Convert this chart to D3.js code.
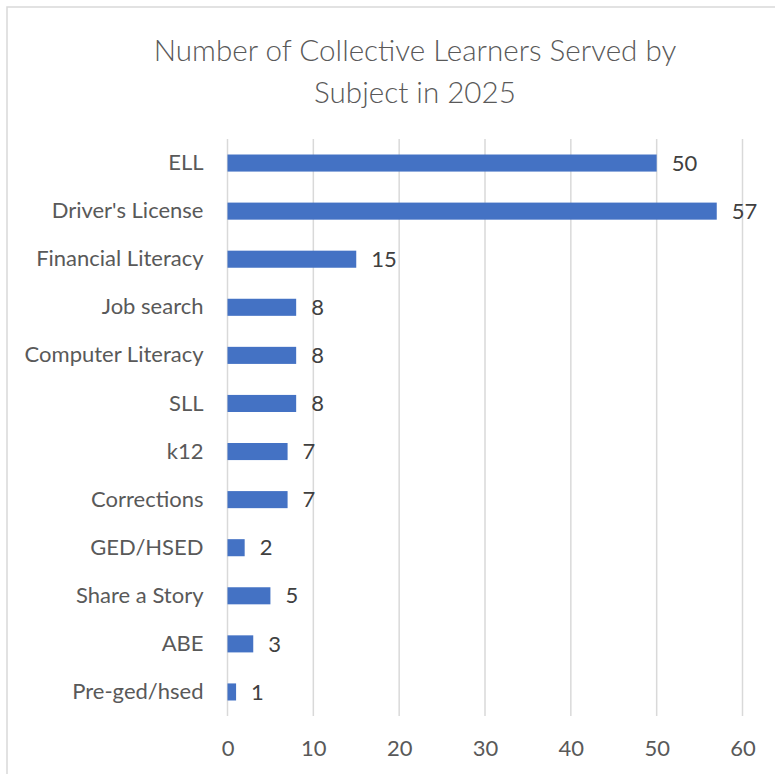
<!DOCTYPE html>
<html>
<head>
<meta charset="utf-8">
<script src="https://cdn.jsdelivr.net/npm/d3@7"></script>
<style>
  body { margin: 0; background: #fff; }
  svg { display: block; }
</style>
</head>
<body>
<div id="chart"></div>
<script>
// chart data
const titleLines = ["Number of Collective Learners Served by", "Subject in 2025"];
const subjects = ["ELL", "Driver's License", "Financial Literacy", "Job search", "Computer Literacy",
  "SLL", "k12", "Corrections", "GED/HSED", "Share a Story", "ABE", "Pre-ged/hsed"];
const learners = [50, 57, 15, 8, 8, 8, 7, 7, 2, 5, 3, 1];
const xTicks = [0, 10, 20, 30, 40, 50, 60];

const W = 775, H = 774;
const margin = { top: 139, right: 32, bottom: 58, left: 227.5 };
const width = W - margin.left - margin.right,
      height = H - margin.top - margin.bottom;

const svg = d3.select("#chart")
  .append("svg")
    .attr("width", W)
    .attr("height", H);

// chart frame (right and bottom edges fall outside the picture)
svg.append("rect")
  .attr("x", 7).attr("y", 7)
  .attr("width", 820).attr("height", 820)
  .attr("fill", "#fff")
  .attr("stroke", "#d9d9d9")
  .attr("stroke-width", 1.5);

// Title
svg.append("g")
  .selectAll("text")
  .data(titleLines)
  .join("text")
    .attr("x", 415)
    .attr("y", (d, i) => 61 + i * 42)
    .attr("text-anchor", "middle")
    .attr("fill", "#595959")
    .style("font-family", "Lato, 'Open Sans', sans-serif")
    .style("font-weight", 300)
    .style("font-size", "29.6px")
    .text(d => d);

const g = svg.append("g")
  .attr("transform", `translate(${margin.left},${margin.top})`);

const x = d3.scaleLinear()
  .domain([0, 60])
  .range([0, 515]);

const y = d3.scaleBand()
  .domain(subjects)
  .range([0, height])
  .paddingInner(0.645)
  .paddingOuter(0.3225);

// gridlines
g.append("g")
  .selectAll("line")
  .data(xTicks)
  .join("line")
    .attr("x1", d => x(d)).attr("x2", d => x(d))
    .attr("y1", 0).attr("y2", height)
    .attr("stroke", "#d9d9d9")
    .attr("stroke-width", 1.5);

// x axis labels
const xAxis = g.append("g")
  .attr("transform", `translate(0,${height})`)
  .call(d3.axisBottom(x).tickValues(xTicks).tickSize(0).tickPadding(24));
xAxis.select(".domain").remove();
xAxis.selectAll("text")
  .attr("fill", "#595959")
  .style("font-family", "Lato, 'Open Sans', sans-serif")
  .style("font-size", "22px");

// y axis labels
const yAxis = g.append("g")
  .call(d3.axisLeft(y).tickSize(0).tickPadding(24));
yAxis.select(".domain").remove();
yAxis.selectAll("text")
  .attr("fill", "#595959")
  .style("font-family", "Lato, 'Open Sans', sans-serif")
  .style("font-size", "22px");

// bars
g.append("g")
  .selectAll("rect")
  .data(learners)
  .join("rect")
    .attr("x", x(0))
    .attr("y", (d, i) => y(subjects[i]))
    .attr("width", d => x(d) - x(0))
    .attr("height", y.bandwidth())
    .attr("fill", "#4472c4");

// value labels
g.append("g")
  .selectAll("text")
  .data(learners)
  .join("text")
    .attr("x", d => x(d) + 15)
    .attr("y", (d, i) => y(subjects[i]) + y.bandwidth() / 2)
    .attr("dy", "0.35em")
    .attr("fill", "#404040")
    .style("font-family", "Lato, 'Open Sans', sans-serif")
    .style("font-size", "22px")
    .text(d => d);
</script>
</body>
</html>
